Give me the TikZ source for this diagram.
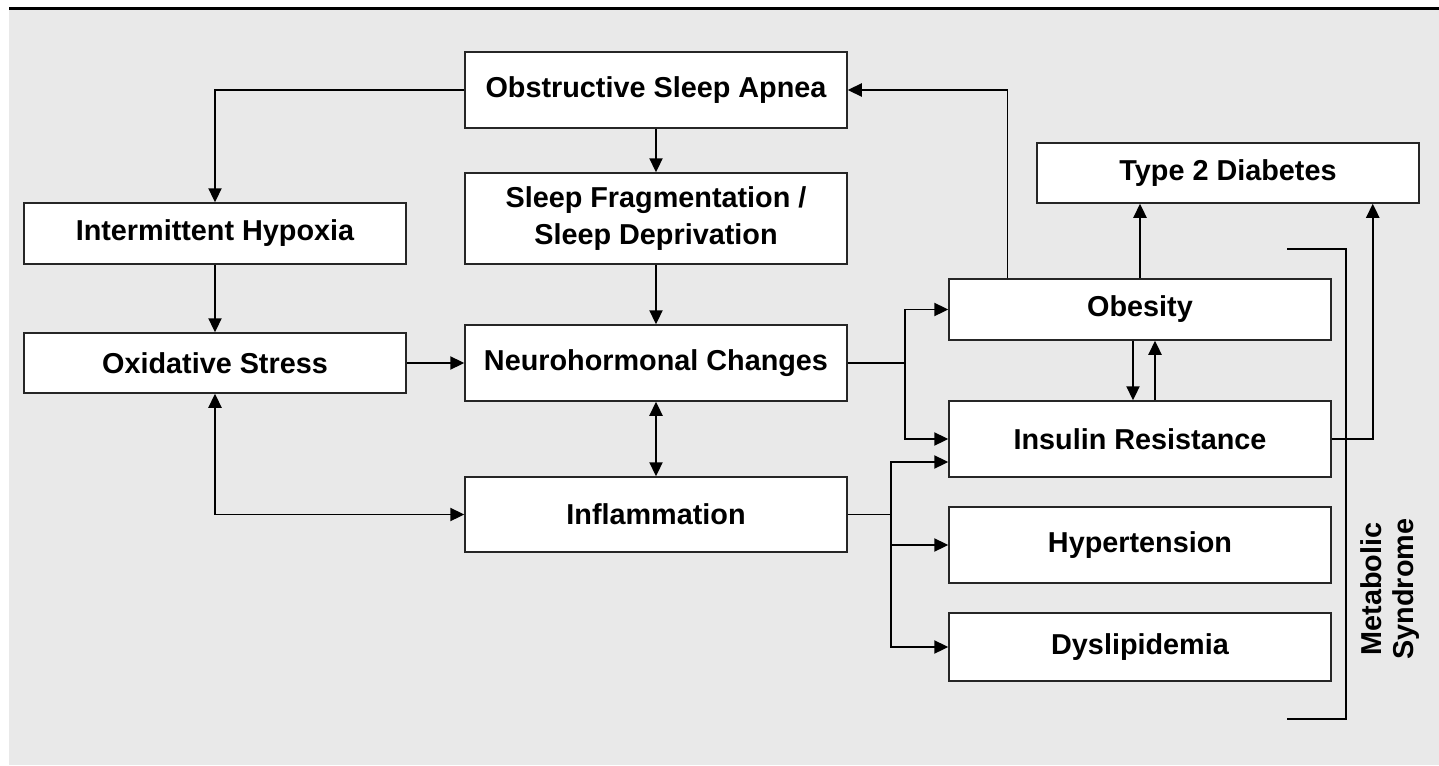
\documentclass[tikz,border=0pt]{standalone}
\usepackage{fontspec}
\setmainfont{Liberation Sans}
\usepackage{tikz}
\usetikzlibrary{arrows.meta,positioning,calc}
\definecolor{panelgray}{HTML}{E9E9E9}
\tikzset{
    flowbox/.style={draw=black!85, fill=white, line width=0.75pt, align=center, inner sep=0pt, font=\bfseries\fontsize{14.4}{18.5}\selectfont, minimum width=191pt},
    flowarrow/.style={-{Triangle[length=7pt,width=6.6pt]}, line width=0.75pt},
    flowboth/.style={{Triangle[length=7pt,width=6.6pt]}-{Triangle[length=7pt,width=6.6pt]}, line width=0.75pt},
    flowline/.style={line width=0.75pt},
    flowlabel/.style={align=center, font=\bfseries\fontsize{14.4}{16}\selectfont}
}

\begin{document}
\begin{tikzpicture}[x=0.5pt,y=-0.5pt]
        \useasboundingbox (0,0) rectangle (1439,765);
        \fill[panelgray] (9,10) rectangle (1439,765);
        \draw[line width=1.3pt] (9,8.7) -- (1439,8.7);
        % boxes
        \node[flowbox, minimum height=38pt] (osa) at (656,90) {Obstructive Sleep Apnea};
        \node[flowbox, minimum height=45.5pt] (sfrag) at (656,218.5) {Sleep Fragmentation /\\Sleep Deprivation};
        \node[flowbox, minimum height=30.5pt] (hypox) at (215,233.5) {Intermittent Hypoxia};
        \node[flowbox, minimum height=30pt] (oxstress) at (215,363) {Oxidative Stress};
        \node[flowbox, minimum height=38pt] (neuro) at (656,363) {Neurohormonal Changes};
        \node[flowbox, minimum height=37.5pt] (inflam) at (656,514.5) {Inflammation};
        \node[flowbox, minimum height=30pt] (t2d) at (1228,173) {Type 2 Diabetes};
        \node[flowbox, minimum height=30.5pt] (obesity) at (1140,309.5) {Obesity};
        \node[flowbox, minimum height=38pt] (insulin) at (1140,439) {Insulin Resistance};
        \node[flowbox, minimum height=38pt] (hypert) at (1140,545) {Hypertension};
        \node[flowbox, minimum height=34pt] (dyslip) at (1140,647) {Dyslipidemia};
        \node[flowlabel, rotate=90] (metlabel) at (1390,589) {Metabolic\\Syndrome};
        % split points
        \coordinate (nsplit) at (905,363);
        \coordinate (isplit) at (891,514.5);
        % connectors
        \draw[flowarrow] (osa.west) -| (hypox.north);
        \draw[flowarrow] (osa) -- (sfrag);
        \draw[flowarrow] (sfrag) -- (neuro);
        \draw[flowarrow] (hypox) -- (oxstress);
        \draw[flowarrow] (oxstress) -- (neuro);
        \draw[flowboth] (oxstress.south) |- (inflam.west);
        \draw[flowboth] (neuro) -- (inflam);
        \draw[flowline] (neuro.east) -- (nsplit);
        \draw[flowarrow] (nsplit) |- (obesity.west);
        \draw[flowarrow] (nsplit) |- (insulin.west);
        \draw[flowline] (inflam.east) -- (isplit);
        \draw[flowarrow] (isplit) |- ($(insulin.west)+(0,23)$);
        \draw[flowarrow] (isplit) |- (hypert.west);
        \draw[flowarrow] (isplit) |- (dyslip.west);
        \draw[flowarrow] ($(obesity.north west)+(59,0)$) |- (osa.east);
        \draw[flowarrow] (obesity.north) -- (obesity.north |- t2d.south);
        \draw[flowarrow] ($(obesity.south)+(-7,0)$) -- ($(insulin.north)+(-7,0)$);
        \draw[flowarrow] ($(insulin.north)+(15,0)$) -- ($(obesity.south)+(15,0)$);
        \draw[flowarrow] (insulin.east) -| ($(t2d.south east)+(-47,0)$);
        % metabolic syndrome bracket
        \draw[line width=0.9pt] (1287,249) -- (1346,249) -- (1346,719) -- (1287,719);
    \end{tikzpicture}
\end{document}
